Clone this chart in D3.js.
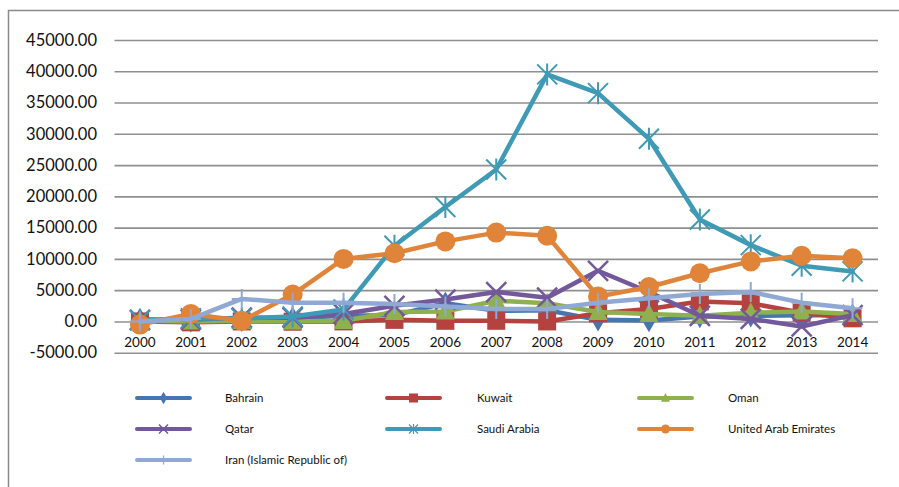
<!DOCTYPE html>
<html>
<head>
<meta charset="utf-8">
<script src="https://cdn.jsdelivr.net/npm/d3@7"></script>
<style>
  html, body { margin: 0; padding: 0; background: #fff; }
  svg { display: block; }
  text { font-family: Lato, "Open Sans", "Liberation Sans", sans-serif; fill: #111; }
</style>
</head>
<body>
<svg id="chart" width="899" height="487"></svg>
<script>
// FDI inflows by country, 2000–2014 (USD millions)
const years = ["2000","2001","2002","2003","2004","2005","2006","2007","2008","2009","2010","2011","2012","2013","2014"];

const bahrain = [300, 100, 200, 500, 900, 1000, 2900, 1700, 1800, 250, 150, 800, 900, 1000, 1000];
const kuwait  = [0, -150, 0, -50, 0, 250, 100, 100, 0, 1300, 2000, 3200, 2900, 1400, 500];
const oman    = [100, 0, 100, 0, 100, 1500, 1600, 3300, 2900, 1500, 1200, 900, 1400, 1600, 1200];
const qatar   = [250, 300, 600, 600, 1200, 2500, 3500, 4700, 3800, 8100, 4700, 900, 400, -800, 1000];
const saudi   = [200, 500, 450, 800, 1900, 12100, 18300, 24300, 39500, 36500, 29200, 16300, 12200, 8900, 8000];
const uae     = [-500, 1200, 100, 4300, 10000, 10900, 12800, 14200, 13700, 4000, 5500, 7700, 9600, 10500, 10100];
const iran    = [0, 400, 3600, 3000, 3000, 2800, 2400, 2000, 2000, 3000, 3700, 4400, 4700, 3000, 2100];

const seriesNames = ["Bahrain", "Kuwait", "Oman", "Qatar", "Saudi Arabia", "United Arab Emirates", "Iran (Islamic Republic of)"];
const yTicks = [-5000, 0, 5000, 10000, 15000, 20000, 25000, 30000, 35000, 40000, 45000];

const series = [
  { name: seriesNames[0], values: bahrain, color: "#4676b2", marker: "diamond" },
  { name: seriesNames[1], values: kuwait,  color: "#b4433f", marker: "square" },
  { name: seriesNames[2], values: oman,    color: "#8fb04f", marker: "triangle" },
  { name: seriesNames[3], values: qatar,   color: "#73589b", marker: "x" },
  { name: seriesNames[4], values: saudi,   color: "#3f9ab5", marker: "star" },
  { name: seriesNames[5], values: uae,     color: "#e0843a", marker: "circle" },
  { name: seriesNames[6], values: iran,    color: "#8fa9d4", marker: "plus" }
];

const svg = d3.select("#chart");

// outer chart frame
svg.append("path")
  .attr("d", "M8.5,487 L8.5,10.5 L899,10.5")
  .attr("fill", "none").attr("stroke", "#8a8a8a").attr("stroke-width", 1.5);

const plot = { left: 114.5, right: 878, top: 40, bottom: 352.7 };

const x = d3.scaleBand().domain(years).range([plot.left, plot.right]).paddingInner(0).paddingOuter(0);
const y = d3.scaleLinear().domain([-5000, 45000]).range([plot.bottom, plot.top]);
const cx = d => x(d) + x.bandwidth() / 2;

// horizontal gridlines
const grid = svg.append("g")
  .attr("transform", `translate(${plot.left},0)`)
  .call(d3.axisLeft(y).tickValues(yTicks).tickSize(-(plot.right - plot.left)).tickFormat(""));
grid.select(".domain").remove();
grid.selectAll("line").attr("stroke", "#8f8f8f").attr("stroke-width", 1.6);

// value axis labels (plain hyphen for negatives)
const yAxis = svg.append("g")
  .attr("transform", `translate(97,0)`)
  .call(d3.axisLeft(y).tickValues(yTicks).tickSize(0).tickPadding(0).tickFormat(d => d.toFixed(2)));
yAxis.select(".domain").remove();
yAxis.selectAll("text").attr("font-size", "16.5px").attr("fill", "#111");

// category axis labels along the zero line
const xAxis = svg.append("g")
  .attr("transform", `translate(0,${y(0)})`)
  .call(d3.axisBottom(x).tickSize(0).tickPadding(16));
xAxis.select(".domain").remove();
xAxis.selectAll("text").attr("font-size", "13.5px").attr("fill", "#111");

// marker drawing
function drawMarker(g, type, px, py, s, color) {
  const h = s / 2;
  if (type === "diamond") {
    g.append("path").attr("d", d3.symbol(d3.symbolDiamond, s * s * 0.55)())
      .attr("transform", `translate(${px},${py})`).attr("fill", color);
  } else if (type === "square") {
    g.append("rect").attr("x", px - h).attr("y", py - h).attr("width", s).attr("height", s)
      .attr("fill", color);
  } else if (type === "triangle") {
    g.append("path").attr("d", `M${px},${py - h * 1.1} L${px + h},${py + h * 0.85} L${px - h},${py + h * 0.85} Z`)
      .attr("fill", color);
  } else if (type === "circle") {
    g.append("circle").attr("cx", px).attr("cy", py).attr("r", h).attr("fill", color);
  } else if (type === "x") {
    g.append("path").attr("d", `M${px - h},${py - h} L${px + h},${py + h} M${px - h},${py + h} L${px + h},${py - h}`)
      .attr("stroke", color).attr("stroke-width", Math.max(1.5, s / 8)).attr("fill", "none");
  } else if (type === "star") {
    g.append("path").attr("d", `M${px - h},${py - h} L${px + h},${py + h} M${px - h},${py + h} L${px + h},${py - h} M${px},${py - h * 1.1} L${px},${py + h * 1.1}`)
      .attr("stroke", color).attr("stroke-width", Math.max(1.2, s / 10)).attr("fill", "none");
  } else if (type === "plus") {
    g.append("path").attr("d", `M${px},${py - h} L${px},${py + h} M${px - h},${py} L${px + h},${py}`)
      .attr("stroke", color).attr("stroke-width", Math.max(1.2, s / 10)).attr("fill", "none");
  }
}

const markerSize = { diamond: 17, square: 18, triangle: 19, circle: 20, x: 20, star: 20, plus: 20 };

const line = d3.line().x((d, i) => cx(years[i])).y(d => y(d));

series.forEach(s => {
  const g = svg.append("g");
  g.append("path").datum(s.values).attr("d", line)
    .attr("fill", "none").attr("stroke", s.color).attr("stroke-width", 4.5)
    .attr("stroke-linejoin", "round").attr("stroke-linecap", "round");
  s.values.forEach((v, i) => drawMarker(g, s.marker, cx(years[i]), y(v), markerSize[s.marker], s.color));
});

// legend
const legendCols = [137, 387, 639];
const legendTextCols = [225, 477, 728];
const legendRows = [398, 429, 460];
const legend = svg.append("g");
series.forEach((s, i) => {
  const col = i % 3, row = Math.floor(i / 3);
  const lx = legendCols[col], ly = legendRows[row];
  legend.append("line").attr("x1", lx).attr("x2", lx + 53).attr("y1", ly).attr("y2", ly)
    .attr("stroke", s.color).attr("stroke-width", 4).attr("stroke-linecap", "round");
  drawMarker(legend, s.marker, lx + 26.5, ly, 9, s.color);
  legend.append("text").attr("x", legendTextCols[col]).attr("y", ly).attr("dy", "0.35em")
    .attr("font-size", "11.5px").text(s.name);
});
</script>
</body>
</html>
